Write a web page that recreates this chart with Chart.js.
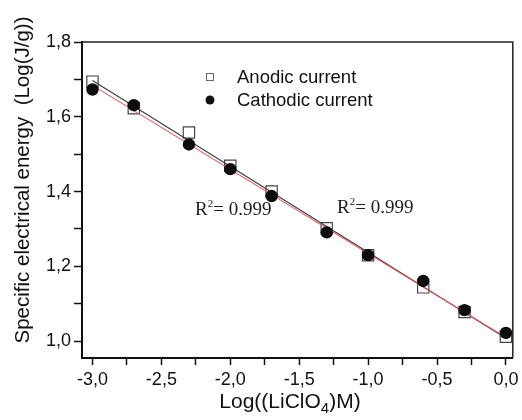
<!DOCTYPE html>
<html>
<head>
<meta charset="utf-8">
<script src="https://cdn.jsdelivr.net/npm/chart.js@4"></script>
<style>
html,body{margin:0;padding:0;background:#fff;}
#wrap{width:522px;height:420px;position:relative;}
</style>
</head>
<body>
<div id="wrap"><canvas id="c" width="522" height="420"></canvas></div>
<script>
const xValues = [-3.0, -2.7, -2.3, -2.0, -1.7, -1.3, -1.0, -0.6, -0.3, 0.0];
const anodic = [1.694, 1.623, 1.558, 1.469, 1.400, 1.302, 1.230, 1.144, 1.078, 1.012];
const cathodic = [1.673, 1.631, 1.526, 1.460, 1.388, 1.291, 1.230, 1.161, 1.083, 1.022];
const fitX = [-3.0, 0.0];
const anodicFit = [1.697, 1.008];
const cathodicFit = [1.684, 1.010];
const xTicks = [-3.0, -2.75, -2.5, -2.25, -2.0, -1.75, -1.5, -1.25, -1.0, -0.75, -0.5, -0.25, 0.0];
const xMajor = [-3.0, -2.5, -2.0, -1.5, -1.0, -0.5, 0.0];
const yTicks = [1.0, 1.1, 1.2, 1.3, 1.4, 1.5, 1.6, 1.7, 1.8];
const yMajor = [1.0, 1.2, 1.4, 1.6, 1.8];
const legendLabels = ['Anodic current', 'Cathodic current'];
const r2Labels = ['0.999', '0.999'];
const xTitle = ['Log((LiClO', '4', ')M)'];
const yTitle = 'Specific electrical energy  (Log(J/g))';

const pts = (xs, ys) => xs.map((x, i) => ({x: x, y: ys[i]}));
const isMajor = (arr, v) => arr.some(m => Math.abs(m - v) < 1e-6);
const fmt = v => v.toFixed(1).replace('.', ',');

const SANS = '"Liberation Sans", Arial, sans-serif';
const SERIF = '"Liberation Serif", "Times New Roman", serif';

const decor = {
  id: 'decor',
  afterDraw(chart) {
    const ctx = chart.ctx, a = chart.chartArea;
    ctx.save();
    // frame top & right
    ctx.strokeStyle = '#222';
    ctx.lineWidth = 1.5;
    ctx.beginPath();
    ctx.moveTo(a.left, a.top);
    ctx.lineTo(a.right, a.top);
    ctx.lineTo(a.right, a.bottom);
    ctx.stroke();
    // legend
    ctx.fillStyle = '#fff';
    ctx.strokeStyle = '#666';
    ctx.lineWidth = 1;
    ctx.strokeRect(206.5, 73.5, 7, 7);
    ctx.fillStyle = '#111';
    ctx.beginPath();
    ctx.arc(210, 100, 4.5, 0, Math.PI * 2);
    ctx.fill();
    ctx.font = '18.5px ' + SANS;
    ctx.textBaseline = 'middle';
    ctx.textAlign = 'left';
    ctx.fillStyle = '#111';
    ctx.fillText(legendLabels[0], 237, 78);
    ctx.fillText(legendLabels[1], 237, 101);
    // R2 labels
    const drawR2 = (x, y, val) => {
      ctx.textBaseline = 'alphabetic';
      ctx.font = '19px ' + SERIF;
      ctx.fillStyle = '#222';
      ctx.fillText('R', x, y);
      let w = ctx.measureText('R').width;
      ctx.font = '11px ' + SERIF;
      ctx.fillText('2', x + w, y - 8);
      w += ctx.measureText('2').width;
      ctx.font = '19px ' + SERIF;
      ctx.fillText('= ' + val, x + w, y);
    };
    drawR2(195, 215, r2Labels[0]);
    drawR2(337, 213, r2Labels[1]);
    // x title with subscript
    ctx.font = '21px ' + SANS;
    ctx.fillStyle = '#111';
    const w1 = ctx.measureText(xTitle[0]).width;
    const w3 = ctx.measureText(xTitle[2]).width;
    ctx.font = '15px ' + SANS;
    const w2 = ctx.measureText(xTitle[1]).width;
    const total = w1 + w2 + w3;
    let x0 = 290 - total / 2;
    const base = 408;
    ctx.textBaseline = 'alphabetic';
    ctx.font = '21px ' + SANS;
    ctx.fillText(xTitle[0], x0, base);
    ctx.font = '15px ' + SANS;
    ctx.fillText(xTitle[1], x0 + w1, base + 5);
    ctx.font = '21px ' + SANS;
    ctx.fillText(xTitle[2], x0 + w1 + w2, base);
    // y title
    ctx.translate(23, 180);
    ctx.rotate(-Math.PI / 2);
    ctx.textAlign = 'center';
    ctx.textBaseline = 'middle';
    ctx.font = '20.5px ' + SANS;
    ctx.fillText(yTitle, 0, 0);
    ctx.restore();
  }
};

new Chart(document.getElementById('c'), {
  type: 'scatter',
  data: {
    datasets: [
      {label: 'Cathodic', data: pts(xValues, cathodic), pointStyle: 'circle', pointRadius: 6.2,
       backgroundColor: '#0d0d0d', borderColor: '#0d0d0d', borderWidth: 0, order: 0},
      {label: 'CathodicFit', data: pts(fitX, cathodicFit), showLine: true, pointRadius: 0,
       borderColor: '#e06060', borderWidth: 1.1, order: 1},
      {label: 'AnodicFit', data: pts(fitX, anodicFit), showLine: true, pointRadius: 0,
       borderColor: '#3c3c3c', borderWidth: 1.1, order: 2},
      {label: 'Anodic', data: pts(xValues, anodic), pointStyle: 'rect', pointRadius: 8,
       backgroundColor: '#fff', borderColor: '#444', borderWidth: 1.2, order: 3}
    ]
  },
  options: {
    responsive: false,
    animation: false,
    layout: {padding: {top: 42, right: 7, left: 0, bottom: 0}},
    plugins: {legend: {display: false}, tooltip: {enabled: false}},
    scales: {
      x: {
        type: 'linear', min: -3.076, max: 0.05,
        afterBuildTicks: s => { s.ticks = xTicks.map(v => ({value: v})); },
        afterFit: s => { s.height = 62; s.paddingLeft = 0; s.paddingRight = 0; },
        grid: {drawOnChartArea: false, tickLength: 7, tickWidth: 1.5, tickColor: '#111'},
        border: {display: true, color: '#111', width: 2},
        ticks: {autoSkip: false, maxRotation: 0, padding: 4, color: '#111',
          font: {family: SANS, size: 18},
          callback: v => isMajor(xMajor, v) ? fmt(v) : ''}
      },
      y: {
        type: 'linear', min: 0.955, max: 1.8,
        afterBuildTicks: s => { s.ticks = yTicks.map(v => ({value: v})); },
        afterFit: s => { s.width = 82; s.paddingTop = 0; s.paddingBottom = 0; },
        grid: {drawOnChartArea: false, tickLength: 8, tickWidth: 1.5, tickColor: '#111'},
        border: {display: true, color: '#111', width: 2},
        ticks: {autoSkip: false, padding: 3, color: '#111',
          font: {family: SANS, size: 18},
          callback: v => isMajor(yMajor, v) ? fmt(v) : ''}
      }
    }
  },
  plugins: [decor]
});
</script>
</body>
</html>
